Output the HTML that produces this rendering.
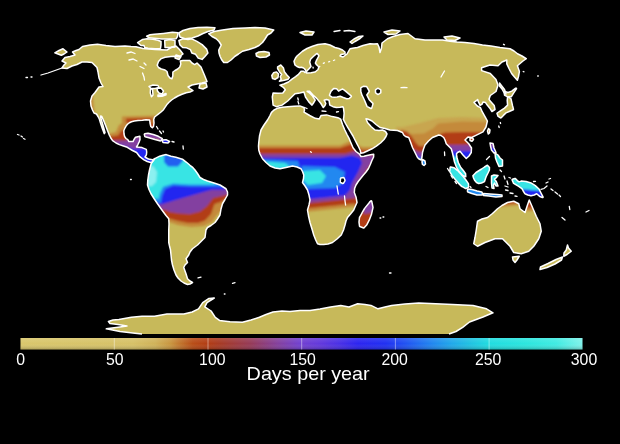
<!DOCTYPE html>
<html><head><meta charset="utf-8"><title>Days per year</title>
<style>
html,body{margin:0;padding:0;background:#000;}
body{width:620px;height:444px;overflow:hidden;}
svg{display:block;}
text{font-family:"Liberation Sans",Arial,sans-serif;fill:#fff;}
</style></head><body>
<svg width="620" height="444" viewBox="0 0 620 444">
<defs>
<clipPath id="land"><polygon points="62,61 65,57.5 70,56.5 75,55 72.5,52 76,50.5 79,49.5 82.5,46.5 90,45 97.5,44.25 106,45.5 115,46.5 125,46 131,46.5 136,46.7 143,48.5 155,49.5 167,50 172,47 176,46 180,50 183,54 179,57 175,56.3 171,56.5 165,57.3 161.3,58.6 158.5,61.5 157.2,65.2 158.5,67.5 161.3,69 165,70 167,71.5 168,75.5 170,78 171.9,78.7 172.8,76 172.9,72 175,70.5 177.7,69 179.8,67 180.8,64 180.3,61 183,60.5 189.8,60.5 192,63 194.7,64.6 197,63 201,67 204.4,75 207,81.6 202,83 197,84 192,85 188,87 190,88.5 193,90.5 190,92 186.2,92.7 182,94.3 178,96 174.5,98 171.6,100 169,102.3 166.7,104.8 165,107.3 163.5,109.7 161,112 158.6,113.8 156.5,115.5 154.6,117 153.7,119.4 154,123 153.5,126.5 152.3,127.8 150.8,126.5 150,123 149.7,120 146,119.7 142.4,120.2 138,120.5 134.3,121 131.5,121.7 129.4,122.7 127.5,124.3 126.2,125.9 124.8,128.3 123.8,130.8 124,134 124.6,136.5 126,138.5 127.8,139.7 128.9,141.6 133,141.6 134,139.5 135.5,137.2 139.9,136.3 140,139.5 139.3,141.6 137.8,144.8 136.5,147 139,147.2 142,147.6 146.3,149.4 146.7,152 146.4,154.8 145,157 146.6,158 148.5,159 152.4,159.8 154.8,158.6 151.6,162.7 147.3,161.5 144,159.9 139.8,156.7 136.6,152.5 132.5,150.5 127.3,147.3 123.5,146 119.4,144.6 116,143 112.6,140.7 110.8,138 109,134.3 107.3,130 105.8,126 103.8,121 101.8,116.5 100.6,116 100.5,117 102,122 103.5,127 105,132.5 104.3,133.7 102.5,129 100.8,124 99.3,119 98,116.5 96.5,114 94,113 92.5,110 91,106 90.5,101 92,96 95,92.5 99,87 103,86.5 101,83 99,78 98,72 97,67.5 92,62.5 87,62 82,62 77,64.5 72,66 67,68.5 62,68 64,65 66,63"/><polygon points="137.6,42.6 142.7,39.4 147,38.8 153,39.3 158,40.3 161,41.5 161,45 160.5,48.5 155,48.8 148,48.3 144.7,47.5 144,45.5 141,45.5"/><polygon points="146.6,36.2 150,34.8 154.4,34.3 163.4,33.4 172.4,32.3 178,32.8 177.5,36.5 176,38.8 170,39 162,39 154,38.3 149,37.8"/><polygon points="178.9,33 183,30.5 190,28.5 198,27.5 207,27.2 215,27.8 214,30 208,31.5 203,33.5 198,36 192,38 185,38.8 180,37"/><polygon points="178.9,40.5 183,38.8 188,39.5 191.8,38.8 196.9,41.4 202.1,44.6 206.6,49.1 207.9,53 204.7,56.8 202.1,59.4 198.2,58.1 195.6,54.3 191.8,53 190.5,49.7 186.6,47.8 182.7,47.5 180,45"/><polygon points="54.8,52.8 59,50.5 63,48.8 67,52 64,54 61.3,55.3 58,54"/><polygon points="164.7,40.5 170,39.5 175,40.5 175,47 170,47.5 165,47.5"/><polygon points="176,55 181,56.5 179,59.5 175,58"/><polygon points="200,84 206,83 207,87 203,89 199,88"/><polygon points="208.75,33.75 214,31.5 222.5,30 233,28.5 245,28 255,27.5 265,28 273.75,30 271,33 267.5,35 265,39 262.5,42.5 259,45.5 255,47.5 249,49.5 242.5,51.25 238.5,54 235,56.25 231,60 227.5,62.5 223.75,62.5 221.5,59.5 220,56.25 219,53 218.75,50 220,47.5 221.25,45 219,41.5 216.25,38.75 212,36.5"/><polygon points="256,53.5 259,52 264,51.5 269,52.5 269.5,55 266,57 260,57.5 256.5,56"/><polygon points="144.3,134.4 144.8,136.4 145.2,136.8 148.9,137.8 154.9,139.5 154.9,139.5 160.4,140.9 160.9,140.7 162.2,139.1 162.3,138.7 162,138.4 158.2,136.4 158.2,136.3 153.2,134.5 153.1,134.5 148.1,133.2 147.9,133.2 144.7,133.8 144.4,134"/><polygon points="162,140 166,139.7 169.6,141.5 168,143 163,142.5"/><polygon points="271.5,112.4 274,110 277.2,108.3 282,107.3 287.7,106.7 294,106.2 299.8,105.9 303.9,107.5 304.5,110 304,112.1 309.7,115.5 315.3,118.3 319.3,118.9 321,115.5 326.6,114.9 332.3,116.6 337.9,117.7 340.2,118.9 340.8,119.4 342.5,124.5 344.7,129.7 347,134.5 349.2,138.7 351,143 353,147.7 356,151.5 359.5,154.2 361,156.5 364,156.3 367,155.5 370.5,154.8 373.7,154.3 373.6,157 371.8,160.8 370.3,164.5 368.5,168.5 366,172 363.4,175 360.8,178.2 358.2,181.5 356,185 354.6,188.5 354.3,192.5 356,197 357,202.5 355,207 353.75,210 350.5,214 347.5,217.5 346,221 345,225 343.5,230 341.25,235 337,239 332.5,242.5 328,244 323.75,244.5 320,244.5 317.5,243.75 315.5,239.5 313.75,235 312,229 310,222.5 308.5,216 307.5,210 309,205 310,200 309,195 307.5,190 305,186 302.5,182.5 303.5,178.5 303.75,175 302.5,171.5 301,168.75 297,167 292.5,166 286,167.5 280,168.75 275,168 270,166 266,162.5 262.5,158.75 260,154 258.75,150 258.5,146 258.75,142.5 259.5,136 261,130 264,125 267.5,120 270,115.5"/><polygon points="370.9,200.9 369.6,202.1 369.6,202.2 364.6,208.4 364.6,208.5 362.1,212.7 362.1,212.8 359.6,217.3 359.5,217.4 359,221.9 359,222.1 359.5,226.1 359.8,226.5 363.6,228 363.9,228 364.1,227.8 366.9,224.8 366.9,224.7 369.2,220.2 369.2,220.2 371.5,214.2 371.5,214.1 373,207.6 373,207.4 371.7,201.2 371.6,200.9 371.2,200.8"/><polygon points="273.1,105.1 272.3,97 273.1,93 278,93.3 282.8,93 285.3,89.7 283.3,87.3 279.9,85.2 283.9,84 288.4,82 292,79.2 295.6,76.7 298.5,74.3 300.3,72.3 301,71.2 303.5,71.2 304.8,72.4 306.3,71.8 305.7,70.5 304.7,69 303.5,68 301.5,67.3 299.4,67.5 297,66.5 294.9,64.8 294,61.2 295.5,58 297,56 302.5,51.25 307,48.5 312.5,46.25 318,44.5 325,43.75 330,45 335,47.5 339,48.5 342.5,50 345,52 345,53.75 341,54.5 340,56 343,57 347,54 350,48.75 354,48 357.5,47.5 363,45.5 370,43.75 374,44 377.5,43.75 379,47 380,52.5 381.5,48 382,43 387.5,38.75 393,36.5 400,34.5 408,33.5 415,38.75 425,40 433,40 442.5,40 450,41.25 457,42 465,42.5 474,43.5 482.5,45 491,46 500,47.5 510,48.75 514,51 517.5,53.75 522,56 526.25,58.75 523,61 517.4,65.8 519.4,71.6 518.5,76.5 517.4,80.3 514.5,77 511.6,73.5 509,68.5 506.8,63.9 506.8,60 502,62 498,65.8 490,65 481.6,67.7 481.6,70.6 490.3,73.5 496,79.4 498,85 496,91.5 490.3,95.5 489,99.2 490,100.8 494.2,105.5 495,109.5 491.9,111.5 489.8,108.2 487,104.8 485.4,102.4 483,102 482.2,104 480.1,105.3 478.1,101.2 477.7,99.6 474,102.4 477.3,106 480.5,107.7 482.2,111.7 485.4,117.4 487.4,121 486,127 483,131.8 477.4,134.6 471.8,137.4 468,137 465,140 468.75,143.75 471.5,148 471.25,152.5 469,156 466.25,158.5 463,155 460,151.25 457.5,152.5 456.5,153.75 456.8,157 458.3,162.5 460.8,167.5 463.3,170.5 465.6,173.7 465.8,176.8 462.5,175.5 459.5,172.3 456.5,167.3 454.5,162 453.5,157.5 452.5,153 451.25,148.75 448.5,146 446.25,143.75 445,140 443.75,137.5 441,135.5 438.75,135 435,136.5 432.5,137.5 428.5,141 425,145 423.5,149 422.5,152.5 422,157 421.25,160 419,159 417.5,157.5 415,152.5 412.5,147.5 410.5,142 408.75,137.5 405.5,136.5 403.75,135 402.5,132.5 397.5,130.5 390,130 385,128.5 380,127.5 376,124.5 372,121 370,120 367.5,119 366,118.75 367.5,122.5 371,126.5 375,130 379,130.5 382.5,130 385.5,131.5 387,134 386,136.5 384,139.5 380.5,143 376.3,146.2 372,148.8 367.3,151 363.5,152.8 360.8,153.3 360.3,150.5 358.7,147 357,143.9 355,140 353,136 350.5,131.8 347.9,127.7 345.5,123.5 343.4,119.4 343.8,117 344.1,113.2 343.5,108.1 342.8,106.7 340,107.3 336.3,107.5 333,106.7 329.8,105.1 329,100.2 326.5,99.5 324.2,100.2 325.8,103.5 325,105.5 323.3,107.5 320.9,103.5 316.9,98.6 313,95 309.6,91.3 307.1,91.3 309,92.5 312,95.4 315.2,100.2 313.5,103 312,105.1 308.8,101.9 305.5,97 303.9,92.1 299.8,93 295,93.8 291.7,97 287.7,101 282,105.1 276.3,106.7"/><polygon points="280.8,65 283.5,68.1 284.4,71.7 287.1,75.3 289.3,77.6 288,79.2 284.4,80.3 279.4,81.2 281.2,79.2 280.3,76.7 281.7,74.4 279.4,71.7 277.6,68.6 277.6,66.8"/><polygon points="271.8,75.5 273.5,72.8 276.5,71.9 278.5,74 278,77.5 275,79.4 272.5,78.5"/><polygon points="300,32.5 306,31 314,32 312,35 305,35"/><polygon points="350,42 354,39 359,36.5 363,36 360,38.5 355,41.5 352,43.5"/><polygon points="384,32 392,30 400,31 396,34 388,34.5"/><polygon points="444,37 452,36 460,38 455,40.5 447,40"/><polygon points="499.5,83 501,85 504.5,89.5 506,94 504.5,93.5 502,89 499.5,86"/><polygon points="504.3,92 504.5,95 504.8,95.4 506.8,96.4 507,96.5 511,96.8 511.4,96.6 513.4,93.3 516.4,88.9 516.5,88.5 516.3,88.2 516,88.1 515.7,88.2 511.8,91.1 508,92.5 504.9,91.5 504.5,91.6"/><polygon points="507.6,97.1 507.2,100.3 507.2,100.4 507.6,105.1 504.5,108.1 500.7,110.6 500.7,110.6 497.2,113 497,113.3 497,113.6 498,116.2 498.2,116.4 500.5,117.8 500.9,117.9 501.2,117.7 503.4,115.4 506,112.9 509.2,111.5 513.2,109.8 513.4,109.5 513.5,109.2 512.6,105.9 511,98.9 510.8,98.6 508.4,96.8 508.1,96.7 507.8,96.8"/><polygon points="422.5,159.5 425,161 425.5,164 424,165.5 422.5,164.5 422,162"/><polygon points="470,138 472.5,137.8 473.5,139.5 472,141.3 470,140.5"/><polygon points="488.5,128.5 490,130 489.5,133 488.3,134 487.5,131"/><polygon points="490,143 493,143.5 494,148 496,152.5 494,153 491.5,150 490.5,146"/><polygon points="495,153 498,155 500,158 502.5,160 502.5,166 499,166.5 497,162 495.5,158"/><polygon points="450.1,167.5 449.8,171.5 449.9,171.8 452.1,175.6 452.1,175.6 455.1,179.3 455.1,179.3 458.1,182.8 458.1,182.9 461.6,186.4 461.8,186.4 465.3,188.4 465.7,188.5 468.2,187.5 468.4,187.3 468.5,187 468.5,184 468.4,183.7 465.9,180 465.9,180 463.4,176.7 463.4,176.7 460.4,173.2 460.3,173.1 457.3,170.3 457.3,170.3 454.3,167.9 454.1,167.8 450.7,167 450.3,167.1"/><polygon points="467.5,189.5 467.5,191.5 467.6,191.8 467.8,192 471.8,193.5 471.9,193.5 476.9,195 477,195 482,195 482.4,194.8 482.5,194.4 482.1,192.4 481.7,192 477.1,191 472.1,189.5 472.1,189.5 468.1,189 467.7,189.1"/><polygon points="483.5,193.5 490,194 497,194.5 502,195 502,196.5 496,197 489,196 483.5,195.5"/><polygon points="472.9,175.8 476,172.5 481.6,169 484.5,167 487.4,165.2 489.5,167.5 489.4,170 488,173 486.5,175.8 485.5,178.5 484.5,181.6 481.5,183 478.7,183.5 476.5,182.5 474.8,180.6 473.5,178"/><polygon points="491.5,176 494,175 498,175.5 496,178 494.5,179 496.5,182 498,186 496,186 494.5,183 493.5,185 494,188.5 492,188 491.5,183 491.5,179"/><polygon points="512.1,179.9 513.5,183.2 513.7,183.4 518.7,186.4 521.9,188.7 523.1,190.7 523.1,190.8 524.8,193.5 525,193.7 527.8,195 527.9,195 530.9,195.7 531.1,195.7 534.1,195 534.2,195 536.7,193.8 539.7,196.4 539.8,196.5 542.4,197.5 542.8,197.5 543.1,197.2 543,196.8 540.9,192.8 539.1,189.2 539,189 535.3,185.6 535.3,185.6 531.3,183.1 531.1,183 526.1,181.5 526,181.5 521.3,181.1 521.1,181.1 519.1,181.9 517.3,180.6 515.4,178.6 514.9,178.5 512.5,179.2 512.1,179.5"/><polygon points="477.5,221.25 482,219 487.5,217.5 492.5,213.5 497.5,208.75 502,205.5 507.5,202.5 513.75,201.25 518.75,203.75 520,208.75 525,212.5 527.5,205 529.25,200 532.5,207.5 536.25,216.25 540,223.75 541.25,231.25 538.75,238.75 533.75,246.25 528.75,251.25 521.25,253.75 513.75,252.5 510,246.25 506.25,242.5 502.5,238.75 495,238.75 485,242.5 477.5,246.25 473.75,243.75 475,237.5 476.25,230"/><polygon points="512.5,257 519.25,256.25 517,260 515,262.5 513,260"/><polygon points="567.5,245 568.5,248 571.25,251.25 567,254.5 563.75,256.25 564,253 566.25,250"/><polygon points="562.5,257 561.5,260 555,264 547,267.5 540,269.5 540.5,267 548,263.5 556,259.5"/><polygon points="142,334 135,333.3 120,331.5 106.3,328.8 118,327.3 127,326 118,324.5 110,323.5 108.4,321.5 113,320 118.9,319.4 131.4,317.3 142,316.2 154.5,316.2 167,314 183.9,314 192.2,312 198.5,308.9 202.7,302.6 209,298.4 214.3,298 207,302.6 204.8,306.8 211.1,311 215.3,317.3 219.5,320.4 230,321.7 242.4,322.3 251,320 259.4,317.3 266,314.5 273,312 282,311 290,311.5 300,310.5 310,310.5 320,309 330.6,307 340.8,305.4 349,307 357.7,303.7 365,304.5 371,305.4 378,308.8 385,307 391.6,305.4 405,304 418.7,303 435.6,303.7 452.6,304.4 473,305.4 486.5,308.8 493,312.8 483,317 469.5,322 462.7,327.4 456,331.5 449,334"/></clipPath><clipPath id="lsa"><polygon points="150.8,165 151.6,162.7 154.8,158.6 159.7,156.2 163,155.2 166.2,154.6 171,156.2 175.9,157.3 182.4,159.2 186.5,162.3 190,165.3 193,167.7 195,170 197.5,173.5 200,177.5 203.5,179.5 207.5,181 214,183 220,185 226,188.75 227.5,192 227.5,195 225,199.5 222.5,203.75 221,209 220,215 217.5,219 215,222.5 211,225.5 207.5,227.5 206,230 205,237.5 201,241.5 197.5,245 192.5,248.75 190,252 188.75,255 186,258.75 187.5,262.5 185,265 183.75,267.5 185,271 186,273.75 187.5,278.75 190,281 192.5,282.5 190,284 187.5,284.5 184,283 181,281 178,278 176,275 174,270 172.5,265 171.5,260 171,255 170.5,250 169.5,246 168.75,242.5 168.75,236 168.75,230 169,224 168.75,218.75 166,215.5 163.75,212.5 160.5,208 157.5,203.75 154,198.5 151,193.75 149,189.5 147.5,185 147.8,180 148.5,175 149.5,170"/></clipPath>
<filter id="b" x="-5%" y="-5%" width="110%" height="110%"><feGaussianBlur stdDeviation="1.3"/></filter>
<filter id="s" x="-2%" y="-2%" width="104%" height="104%"><feGaussianBlur stdDeviation="0.35"/></filter>
<linearGradient id="cb" x1="0" y1="0" x2="1" y2="0"><stop offset="0.0000" stop-color="#d9c76c"/><stop offset="0.2000" stop-color="#d6c167"/><stop offset="0.2400" stop-color="#d0b259"/><stop offset="0.2667" stop-color="#c99640"/><stop offset="0.2867" stop-color="#c0702a"/><stop offset="0.3067" stop-color="#b84d17"/><stop offset="0.3333" stop-color="#b23c14"/><stop offset="0.3567" stop-color="#a63a26"/><stop offset="0.4100" stop-color="#953a58"/><stop offset="0.4600" stop-color="#8340a0"/><stop offset="0.4967" stop-color="#7240d0"/><stop offset="0.5333" stop-color="#6238dc"/><stop offset="0.5667" stop-color="#4a30e6"/><stop offset="0.6000" stop-color="#2c24f0"/><stop offset="0.6500" stop-color="#2030f2"/><stop offset="0.6833" stop-color="#2050f2"/><stop offset="0.7267" stop-color="#2080f0"/><stop offset="0.7667" stop-color="#20a8ea"/><stop offset="0.8000" stop-color="#20c2e2"/><stop offset="0.8333" stop-color="#20dce0"/><stop offset="0.9000" stop-color="#2ce6de"/><stop offset="0.9533" stop-color="#40ebe2"/><stop offset="1.0000" stop-color="#80f2ea"/></linearGradient>
<linearGradient id="sh" x1="0" y1="0" x2="0" y2="1"><stop offset="0" stop-color="#fff" stop-opacity=".12"/><stop offset=".5" stop-color="#fff" stop-opacity="0"/><stop offset="1" stop-color="#000" stop-opacity=".22"/></linearGradient>
</defs>
<rect width="620" height="444" fill="#000"/>
<g filter="url(#s)">
<g fill="#c7b95a"><polygon points="62,61 65,57.5 70,56.5 75,55 72.5,52 76,50.5 79,49.5 82.5,46.5 90,45 97.5,44.25 106,45.5 115,46.5 125,46 131,46.5 136,46.7 143,48.5 155,49.5 167,50 172,47 176,46 180,50 183,54 179,57 175,56.3 171,56.5 165,57.3 161.3,58.6 158.5,61.5 157.2,65.2 158.5,67.5 161.3,69 165,70 167,71.5 168,75.5 170,78 171.9,78.7 172.8,76 172.9,72 175,70.5 177.7,69 179.8,67 180.8,64 180.3,61 183,60.5 189.8,60.5 192,63 194.7,64.6 197,63 201,67 204.4,75 207,81.6 202,83 197,84 192,85 188,87 190,88.5 193,90.5 190,92 186.2,92.7 182,94.3 178,96 174.5,98 171.6,100 169,102.3 166.7,104.8 165,107.3 163.5,109.7 161,112 158.6,113.8 156.5,115.5 154.6,117 153.7,119.4 154,123 153.5,126.5 152.3,127.8 150.8,126.5 150,123 149.7,120 146,119.7 142.4,120.2 138,120.5 134.3,121 131.5,121.7 129.4,122.7 127.5,124.3 126.2,125.9 124.8,128.3 123.8,130.8 124,134 124.6,136.5 126,138.5 127.8,139.7 128.9,141.6 133,141.6 134,139.5 135.5,137.2 139.9,136.3 140,139.5 139.3,141.6 137.8,144.8 136.5,147 139,147.2 142,147.6 146.3,149.4 146.7,152 146.4,154.8 145,157 146.6,158 148.5,159 152.4,159.8 154.8,158.6 151.6,162.7 147.3,161.5 144,159.9 139.8,156.7 136.6,152.5 132.5,150.5 127.3,147.3 123.5,146 119.4,144.6 116,143 112.6,140.7 110.8,138 109,134.3 107.3,130 105.8,126 103.8,121 101.8,116.5 100.6,116 100.5,117 102,122 103.5,127 105,132.5 104.3,133.7 102.5,129 100.8,124 99.3,119 98,116.5 96.5,114 94,113 92.5,110 91,106 90.5,101 92,96 95,92.5 99,87 103,86.5 101,83 99,78 98,72 97,67.5 92,62.5 87,62 82,62 77,64.5 72,66 67,68.5 62,68 64,65 66,63"/><polygon points="137.6,42.6 142.7,39.4 147,38.8 153,39.3 158,40.3 161,41.5 161,45 160.5,48.5 155,48.8 148,48.3 144.7,47.5 144,45.5 141,45.5"/><polygon points="146.6,36.2 150,34.8 154.4,34.3 163.4,33.4 172.4,32.3 178,32.8 177.5,36.5 176,38.8 170,39 162,39 154,38.3 149,37.8"/><polygon points="178.9,33 183,30.5 190,28.5 198,27.5 207,27.2 215,27.8 214,30 208,31.5 203,33.5 198,36 192,38 185,38.8 180,37"/><polygon points="178.9,40.5 183,38.8 188,39.5 191.8,38.8 196.9,41.4 202.1,44.6 206.6,49.1 207.9,53 204.7,56.8 202.1,59.4 198.2,58.1 195.6,54.3 191.8,53 190.5,49.7 186.6,47.8 182.7,47.5 180,45"/><polygon points="54.8,52.8 59,50.5 63,48.8 67,52 64,54 61.3,55.3 58,54"/><polygon points="164.7,40.5 170,39.5 175,40.5 175,47 170,47.5 165,47.5"/><polygon points="176,55 181,56.5 179,59.5 175,58"/><polygon points="200,84 206,83 207,87 203,89 199,88"/><polygon points="208.75,33.75 214,31.5 222.5,30 233,28.5 245,28 255,27.5 265,28 273.75,30 271,33 267.5,35 265,39 262.5,42.5 259,45.5 255,47.5 249,49.5 242.5,51.25 238.5,54 235,56.25 231,60 227.5,62.5 223.75,62.5 221.5,59.5 220,56.25 219,53 218.75,50 220,47.5 221.25,45 219,41.5 216.25,38.75 212,36.5"/><polygon points="256,53.5 259,52 264,51.5 269,52.5 269.5,55 266,57 260,57.5 256.5,56"/><polygon points="144.3,134.4 144.8,136.4 145.2,136.8 148.9,137.8 154.9,139.5 154.9,139.5 160.4,140.9 160.9,140.7 162.2,139.1 162.3,138.7 162,138.4 158.2,136.4 158.2,136.3 153.2,134.5 153.1,134.5 148.1,133.2 147.9,133.2 144.7,133.8 144.4,134"/><polygon points="162,140 166,139.7 169.6,141.5 168,143 163,142.5"/><polygon points="150.8,165 151.6,162.7 154.8,158.6 159.7,156.2 163,155.2 166.2,154.6 171,156.2 175.9,157.3 182.4,159.2 186.5,162.3 190,165.3 193,167.7 195,170 197.5,173.5 200,177.5 203.5,179.5 207.5,181 214,183 220,185 226,188.75 227.5,192 227.5,195 225,199.5 222.5,203.75 221,209 220,215 217.5,219 215,222.5 211,225.5 207.5,227.5 206,230 205,237.5 201,241.5 197.5,245 192.5,248.75 190,252 188.75,255 186,258.75 187.5,262.5 185,265 183.75,267.5 185,271 186,273.75 187.5,278.75 190,281 192.5,282.5 190,284 187.5,284.5 184,283 181,281 178,278 176,275 174,270 172.5,265 171.5,260 171,255 170.5,250 169.5,246 168.75,242.5 168.75,236 168.75,230 169,224 168.75,218.75 166,215.5 163.75,212.5 160.5,208 157.5,203.75 154,198.5 151,193.75 149,189.5 147.5,185 147.8,180 148.5,175 149.5,170"/><polygon points="271.5,112.4 274,110 277.2,108.3 282,107.3 287.7,106.7 294,106.2 299.8,105.9 303.9,107.5 304.5,110 304,112.1 309.7,115.5 315.3,118.3 319.3,118.9 321,115.5 326.6,114.9 332.3,116.6 337.9,117.7 340.2,118.9 340.8,119.4 342.5,124.5 344.7,129.7 347,134.5 349.2,138.7 351,143 353,147.7 356,151.5 359.5,154.2 361,156.5 364,156.3 367,155.5 370.5,154.8 373.7,154.3 373.6,157 371.8,160.8 370.3,164.5 368.5,168.5 366,172 363.4,175 360.8,178.2 358.2,181.5 356,185 354.6,188.5 354.3,192.5 356,197 357,202.5 355,207 353.75,210 350.5,214 347.5,217.5 346,221 345,225 343.5,230 341.25,235 337,239 332.5,242.5 328,244 323.75,244.5 320,244.5 317.5,243.75 315.5,239.5 313.75,235 312,229 310,222.5 308.5,216 307.5,210 309,205 310,200 309,195 307.5,190 305,186 302.5,182.5 303.5,178.5 303.75,175 302.5,171.5 301,168.75 297,167 292.5,166 286,167.5 280,168.75 275,168 270,166 266,162.5 262.5,158.75 260,154 258.75,150 258.5,146 258.75,142.5 259.5,136 261,130 264,125 267.5,120 270,115.5"/><polygon points="370.9,200.9 369.6,202.1 369.6,202.2 364.6,208.4 364.6,208.5 362.1,212.7 362.1,212.8 359.6,217.3 359.5,217.4 359,221.9 359,222.1 359.5,226.1 359.8,226.5 363.6,228 363.9,228 364.1,227.8 366.9,224.8 366.9,224.7 369.2,220.2 369.2,220.2 371.5,214.2 371.5,214.1 373,207.6 373,207.4 371.7,201.2 371.6,200.9 371.2,200.8"/><polygon points="273.1,105.1 272.3,97 273.1,93 278,93.3 282.8,93 285.3,89.7 283.3,87.3 279.9,85.2 283.9,84 288.4,82 292,79.2 295.6,76.7 298.5,74.3 300.3,72.3 301,71.2 303.5,71.2 304.8,72.4 306.3,71.8 305.7,70.5 304.7,69 303.5,68 301.5,67.3 299.4,67.5 297,66.5 294.9,64.8 294,61.2 295.5,58 297,56 302.5,51.25 307,48.5 312.5,46.25 318,44.5 325,43.75 330,45 335,47.5 339,48.5 342.5,50 345,52 345,53.75 341,54.5 340,56 343,57 347,54 350,48.75 354,48 357.5,47.5 363,45.5 370,43.75 374,44 377.5,43.75 379,47 380,52.5 381.5,48 382,43 387.5,38.75 393,36.5 400,34.5 408,33.5 415,38.75 425,40 433,40 442.5,40 450,41.25 457,42 465,42.5 474,43.5 482.5,45 491,46 500,47.5 510,48.75 514,51 517.5,53.75 522,56 526.25,58.75 523,61 517.4,65.8 519.4,71.6 518.5,76.5 517.4,80.3 514.5,77 511.6,73.5 509,68.5 506.8,63.9 506.8,60 502,62 498,65.8 490,65 481.6,67.7 481.6,70.6 490.3,73.5 496,79.4 498,85 496,91.5 490.3,95.5 489,99.2 490,100.8 494.2,105.5 495,109.5 491.9,111.5 489.8,108.2 487,104.8 485.4,102.4 483,102 482.2,104 480.1,105.3 478.1,101.2 477.7,99.6 474,102.4 477.3,106 480.5,107.7 482.2,111.7 485.4,117.4 487.4,121 486,127 483,131.8 477.4,134.6 471.8,137.4 468,137 465,140 468.75,143.75 471.5,148 471.25,152.5 469,156 466.25,158.5 463,155 460,151.25 457.5,152.5 456.5,153.75 456.8,157 458.3,162.5 460.8,167.5 463.3,170.5 465.6,173.7 465.8,176.8 462.5,175.5 459.5,172.3 456.5,167.3 454.5,162 453.5,157.5 452.5,153 451.25,148.75 448.5,146 446.25,143.75 445,140 443.75,137.5 441,135.5 438.75,135 435,136.5 432.5,137.5 428.5,141 425,145 423.5,149 422.5,152.5 422,157 421.25,160 419,159 417.5,157.5 415,152.5 412.5,147.5 410.5,142 408.75,137.5 405.5,136.5 403.75,135 402.5,132.5 397.5,130.5 390,130 385,128.5 380,127.5 376,124.5 372,121 370,120 367.5,119 366,118.75 367.5,122.5 371,126.5 375,130 379,130.5 382.5,130 385.5,131.5 387,134 386,136.5 384,139.5 380.5,143 376.3,146.2 372,148.8 367.3,151 363.5,152.8 360.8,153.3 360.3,150.5 358.7,147 357,143.9 355,140 353,136 350.5,131.8 347.9,127.7 345.5,123.5 343.4,119.4 343.8,117 344.1,113.2 343.5,108.1 342.8,106.7 340,107.3 336.3,107.5 333,106.7 329.8,105.1 329,100.2 326.5,99.5 324.2,100.2 325.8,103.5 325,105.5 323.3,107.5 320.9,103.5 316.9,98.6 313,95 309.6,91.3 307.1,91.3 309,92.5 312,95.4 315.2,100.2 313.5,103 312,105.1 308.8,101.9 305.5,97 303.9,92.1 299.8,93 295,93.8 291.7,97 287.7,101 282,105.1 276.3,106.7"/><polygon points="280.8,65 283.5,68.1 284.4,71.7 287.1,75.3 289.3,77.6 288,79.2 284.4,80.3 279.4,81.2 281.2,79.2 280.3,76.7 281.7,74.4 279.4,71.7 277.6,68.6 277.6,66.8"/><polygon points="271.8,75.5 273.5,72.8 276.5,71.9 278.5,74 278,77.5 275,79.4 272.5,78.5"/><polygon points="300,32.5 306,31 314,32 312,35 305,35"/><polygon points="350,42 354,39 359,36.5 363,36 360,38.5 355,41.5 352,43.5"/><polygon points="384,32 392,30 400,31 396,34 388,34.5"/><polygon points="444,37 452,36 460,38 455,40.5 447,40"/><polygon points="499.5,83 501,85 504.5,89.5 506,94 504.5,93.5 502,89 499.5,86"/><polygon points="504.3,92 504.5,95 504.8,95.4 506.8,96.4 507,96.5 511,96.8 511.4,96.6 513.4,93.3 516.4,88.9 516.5,88.5 516.3,88.2 516,88.1 515.7,88.2 511.8,91.1 508,92.5 504.9,91.5 504.5,91.6"/><polygon points="507.6,97.1 507.2,100.3 507.2,100.4 507.6,105.1 504.5,108.1 500.7,110.6 500.7,110.6 497.2,113 497,113.3 497,113.6 498,116.2 498.2,116.4 500.5,117.8 500.9,117.9 501.2,117.7 503.4,115.4 506,112.9 509.2,111.5 513.2,109.8 513.4,109.5 513.5,109.2 512.6,105.9 511,98.9 510.8,98.6 508.4,96.8 508.1,96.7 507.8,96.8"/><polygon points="422.5,159.5 425,161 425.5,164 424,165.5 422.5,164.5 422,162"/><polygon points="470,138 472.5,137.8 473.5,139.5 472,141.3 470,140.5"/><polygon points="488.5,128.5 490,130 489.5,133 488.3,134 487.5,131"/><polygon points="490,143 493,143.5 494,148 496,152.5 494,153 491.5,150 490.5,146"/><polygon points="495,153 498,155 500,158 502.5,160 502.5,166 499,166.5 497,162 495.5,158"/><polygon points="450.1,167.5 449.8,171.5 449.9,171.8 452.1,175.6 452.1,175.6 455.1,179.3 455.1,179.3 458.1,182.8 458.1,182.9 461.6,186.4 461.8,186.4 465.3,188.4 465.7,188.5 468.2,187.5 468.4,187.3 468.5,187 468.5,184 468.4,183.7 465.9,180 465.9,180 463.4,176.7 463.4,176.7 460.4,173.2 460.3,173.1 457.3,170.3 457.3,170.3 454.3,167.9 454.1,167.8 450.7,167 450.3,167.1"/><polygon points="467.5,189.5 467.5,191.5 467.6,191.8 467.8,192 471.8,193.5 471.9,193.5 476.9,195 477,195 482,195 482.4,194.8 482.5,194.4 482.1,192.4 481.7,192 477.1,191 472.1,189.5 472.1,189.5 468.1,189 467.7,189.1"/><polygon points="483.5,193.5 490,194 497,194.5 502,195 502,196.5 496,197 489,196 483.5,195.5"/><polygon points="472.9,175.8 476,172.5 481.6,169 484.5,167 487.4,165.2 489.5,167.5 489.4,170 488,173 486.5,175.8 485.5,178.5 484.5,181.6 481.5,183 478.7,183.5 476.5,182.5 474.8,180.6 473.5,178"/><polygon points="491.5,176 494,175 498,175.5 496,178 494.5,179 496.5,182 498,186 496,186 494.5,183 493.5,185 494,188.5 492,188 491.5,183 491.5,179"/><polygon points="512.1,179.9 513.5,183.2 513.7,183.4 518.7,186.4 521.9,188.7 523.1,190.7 523.1,190.8 524.8,193.5 525,193.7 527.8,195 527.9,195 530.9,195.7 531.1,195.7 534.1,195 534.2,195 536.7,193.8 539.7,196.4 539.8,196.5 542.4,197.5 542.8,197.5 543.1,197.2 543,196.8 540.9,192.8 539.1,189.2 539,189 535.3,185.6 535.3,185.6 531.3,183.1 531.1,183 526.1,181.5 526,181.5 521.3,181.1 521.1,181.1 519.1,181.9 517.3,180.6 515.4,178.6 514.9,178.5 512.5,179.2 512.1,179.5"/><polygon points="477.5,221.25 482,219 487.5,217.5 492.5,213.5 497.5,208.75 502,205.5 507.5,202.5 513.75,201.25 518.75,203.75 520,208.75 525,212.5 527.5,205 529.25,200 532.5,207.5 536.25,216.25 540,223.75 541.25,231.25 538.75,238.75 533.75,246.25 528.75,251.25 521.25,253.75 513.75,252.5 510,246.25 506.25,242.5 502.5,238.75 495,238.75 485,242.5 477.5,246.25 473.75,243.75 475,237.5 476.25,230"/><polygon points="512.5,257 519.25,256.25 517,260 515,262.5 513,260"/><polygon points="567.5,245 568.5,248 571.25,251.25 567,254.5 563.75,256.25 564,253 566.25,250"/><polygon points="562.5,257 561.5,260 555,264 547,267.5 540,269.5 540.5,267 548,263.5 556,259.5"/><polygon points="142,334 135,333.3 120,331.5 106.3,328.8 118,327.3 127,326 118,324.5 110,323.5 108.4,321.5 113,320 118.9,319.4 131.4,317.3 142,316.2 154.5,316.2 167,314 183.9,314 192.2,312 198.5,308.9 202.7,302.6 209,298.4 214.3,298 207,302.6 204.8,306.8 211.1,311 215.3,317.3 219.5,320.4 230,321.7 242.4,322.3 251,320 259.4,317.3 266,314.5 273,312 282,311 290,311.5 300,310.5 310,310.5 320,309 330.6,307 340.8,305.4 349,307 357.7,303.7 365,304.5 371,305.4 378,308.8 385,307 391.6,305.4 405,304 418.7,303 435.6,303.7 452.6,304.4 473,305.4 486.5,308.8 493,312.8 483,317 469.5,322 462.7,327.4 456,331.5 449,334"/></g>
<g clip-path="url(#land)"><g filter="url(#b)"><polygon points="250,145.5 340,145.5 350,141 362,147 385,147 385,162 372,170 362,196 362,206 300,212.5 250,212.5" fill="#c48a3a"/><polygon points="250,148 340,148 352,144 362,150 382,150.5 382,160 370,170 361,190 360,203 300,209 250,209" fill="#b23c14"/><polygon points="250,154 345,154 356,151 366,155 376,156 374,160 366,170 358,187 355,198 300,204 250,204" fill="#8340a0"/><polygon points="250,157.8 340,157.8 352,155.5 360,158 362,163 358,172 352,183 350,190 345,195.5 300,200 250,200" fill="#2428f0"/><polygon points="255,159 298,161 300,168 250,170" fill="#2088f0"/><polygon points="302,166 335,167 345,172 343,183 335,188 305,189 300,180" fill="#2088f0"/><polygon points="258,161 285,163 292,168 255,170" fill="#38e4e4"/><polygon points="303,171 320,170 326,176 322,183 308,185 303,180" fill="#38e4e4"/><polygon points="355,200 375,200 375,230 355,230" fill="#b23c14"/><polygon points="362,200 375,200 375,212 364,214" fill="#8340a0"/><polygon points="88,95 93,95 93.5,105 95.5,118 88,118" fill="#c48a3a"/><polygon points="122,116.5 158,115.5 158,131 122,124" fill="#c48a3a"/><polygon points="126,121 119,125 116,132 108,134 95,134 95,165 160,165 160,121" fill="#c48a3a"/><polygon points="126,118.5 152,118 152,122 126,123" fill="#b23c14"/><polygon points="95,137 110,136.5 118,135.5 121,131 127,128 127,165 95,165" fill="#b23c14"/><polygon points="150,123 157,123 157,129 150,129" fill="#b23c14"/><polygon points="95,140.5 125,140.5 134,137.5 142,136 149,140 149,165 95,165" fill="#8340a0"/><polygon points="95,144.8 119,144.8 128,147.3 134,149.3 141,148.5 160,148 160,170 95,170" fill="#2428f0"/><polygon points="160,137 172,137 172,144 160,144" fill="#2428f0"/><polygon points="143,132 163,134 163,140 143,138" fill="#8340a0"/><polygon points="396,127 403,127 420,123 438,118 462,117 490,118 490,145 396,145" fill="#c8a650"/><polygon points="396,131 403,131 412,134 424,133.5 433,128.5 438,123.5 462,121.5 490,122 490,145 480,180 440,180 396,170" fill="#c48a3a"/><polygon points="401,130 407,131.5 412,137 415.5,142.5 419,146 424,146 428,143 430,170 400,170" fill="#b23c14"/><polygon points="440,134 445,132.5 465,132 486,132 486,145 480,180 440,180" fill="#b23c14"/><polygon points="408,146 413,149.5 419,152 426,151 430,170 408,170" fill="#8340a0"/><polygon points="448,145 475,145 475,180 448,180" fill="#8340a0"/><polygon points="410,152 415,155 420,156 424,170 410,170" fill="#2428f0"/><polygon points="452,151 475,151 475,180 452,180" fill="#2428f0"/><polygon points="418,158 428,158 428,168 418,168" fill="#2088f0"/><polygon points="452,157 462,155.5 470,180 452,180" fill="#38e4e4"/><polygon points="445,164 505,150 545,175 545,200 460,200 445,190" fill="#38e4e4"/><polygon points="466,188.5 505,192.5 505,199 466,196" fill="#2088f0"/><polygon points="520,189 545,191 545,200 520,198" fill="#2428f0"/><polygon points="488,146 497,146 497,154 488,154" fill="#2428f0"/><polygon points="488,140 497,140 497,147.5 488,147.5" fill="#8340a0"/><polygon points="420,158 428,158 428,168 420,168" fill="#2088f0"/><polygon points="500,198 520,198 520,205 500,207" fill="#c48a3a"/><polygon points="504,199 518,199 518,203 504,204" fill="#b23c14"/><polygon points="524,198 535,198 535,211 524,211" fill="#c48a3a"/><polygon points="526,197 533,197 533,208 526,208" fill="#b23c14"/></g></g>
<g clip-path="url(#lsa)"><g filter="url(#b)"><polygon points="140,150 230,150 230,205 223,209 217,215 212,222 204,226 191.4,227 178,225 168.8,222 140,217" fill="#c48a3a"/><polygon points="140,150 230,150 230,196 220.7,202 214.5,204 211,214 205,220.5 198,223 188,223 178,221 168.8,218.5 140,214" fill="#b23c14"/><polygon points="140,150 230,150 230,193 225.2,195 213,198 207,206 200,211.5 190,214 180,213.5 170,212 166,210 140,205" fill="#8340a0"/><polygon points="140,150 225,150 225,189.7 211.6,189.7 191.4,195.4 175.6,200 161,204.4 140,200" fill="#2428f0"/><polygon points="140,150 230,150 230,186.5 215,186.5 190.2,186.5 173.2,185.5 165,189 162,196 160.8,203 140,200" fill="#2088f0"/><polygon points="140,150 225,150 215,184.5 190.2,184.5 173.2,183.4 163,186.7 160,193 158.5,199 140,196" fill="#38e4e4"/><polygon points="164,155 182,155 183,161 178,166.5 168,166.5 164,162" fill="#2060f0"/><polygon points="146,168 153,166 157,172 156,182 152,186 146,186" fill="#8cf0f0"/></g></g>
<g fill="#000"><polygon points="329.7,95.6 331.7,96.9 331.9,97 334.4,97.3 334.6,97.3 337.1,97 337.1,97 340.2,96.2 343.3,97.5 343.3,97.5 346.7,98.8 347,98.8 349.1,98.5 349.3,98.4 351.2,96.7 351.4,96.3 351.2,95.9 347.3,92.6 347.3,92.6 344.3,90.1 344.3,90.1 342.7,89.1 342.2,89.1 340.3,90.1 340.2,90.1 338.6,91.1 336.9,89 336.6,88.8 334.1,88.5 333.6,88.6 331.1,91.1 331,91.3 329.5,95 329.5,95.3"/><polygon points="316.7,53.6 313.6,56.3 313.6,56.3 310.8,59 310.6,59.2 309.7,61.9 309.7,62.2 311,66.5 309.1,68.7 307.1,70.8 307.1,70.8 306.2,72.2 306.1,72.6 306.3,72.9 306.6,73 311,72.8 311.1,72.8 314.9,72.1 315.1,72 317.8,69.7 318,69.5 318.7,67.4 318.6,66.9 317.4,65.4 317.3,65.3 316.4,64.7 315.4,63 316.6,60.1 318.8,56 318.8,55.5 317.4,53.7 317,53.5"/><polygon points="360.8,88 360.8,91.2 360.8,91.4 362,95.2 362.1,95.2 364.5,100.2 367,106.4 367.3,106.7 371,108.5 371.5,108.5 371.7,108.1 373,103.9 372.9,103.4 369.2,99.7 366.8,95 369.2,91.5 369.2,91 366.7,86.7 366.3,86.5 363.5,86.3 363.3,86.4 361,87.6"/><polygon points="375.5,90 375.5,92.5 375.7,92.9 377.7,94.4 378,94.5 378.3,94.4 380.6,92.9 380.8,92.5 380.8,90 380.5,89.6 378.2,88.3 377.7,88.3 375.7,89.6"/><polygon points="340.5,178.5 340.3,182 340.4,182.3 340.6,182.5 342.8,183.5 343.1,183.5 343.4,183.3 344.9,180.8 345,180.3 344,177.8 343.7,177.6 343.4,177.5 340.9,178 340.6,178.2"/><polygon points="149,86.5 153,85 158,85.5 159,87.5 155,88.5 151,88.5"/><polygon points="150.5,89 152.5,89 153,95 151.5,96.7 150.3,93"/><polygon points="157,88.5 161,88 163.5,91 162,94 159,93 157.5,91"/><polygon points="158,95 162,94.7 166,93.5 166,94.8 162,96.3 158,96.5"/></g>
<g fill="none" stroke="#fff" stroke-width="1.5" stroke-linejoin="round"><polygon points="62,61 65,57.5 70,56.5 75,55 72.5,52 76,50.5 79,49.5 82.5,46.5 90,45 97.5,44.25 106,45.5 115,46.5 125,46 131,46.5 136,46.7 143,48.5 155,49.5 167,50 172,47 176,46 180,50 183,54 179,57 175,56.3 171,56.5 165,57.3 161.3,58.6 158.5,61.5 157.2,65.2 158.5,67.5 161.3,69 165,70 167,71.5 168,75.5 170,78 171.9,78.7 172.8,76 172.9,72 175,70.5 177.7,69 179.8,67 180.8,64 180.3,61 183,60.5 189.8,60.5 192,63 194.7,64.6 197,63 201,67 204.4,75 207,81.6 202,83 197,84 192,85 188,87 190,88.5 193,90.5 190,92 186.2,92.7 182,94.3 178,96 174.5,98 171.6,100 169,102.3 166.7,104.8 165,107.3 163.5,109.7 161,112 158.6,113.8 156.5,115.5 154.6,117 153.7,119.4 154,123 153.5,126.5 152.3,127.8 150.8,126.5 150,123 149.7,120 146,119.7 142.4,120.2 138,120.5 134.3,121 131.5,121.7 129.4,122.7 127.5,124.3 126.2,125.9 124.8,128.3 123.8,130.8 124,134 124.6,136.5 126,138.5 127.8,139.7 128.9,141.6 133,141.6 134,139.5 135.5,137.2 139.9,136.3 140,139.5 139.3,141.6 137.8,144.8 136.5,147 139,147.2 142,147.6 146.3,149.4 146.7,152 146.4,154.8 145,157 146.6,158 148.5,159 152.4,159.8 154.8,158.6 151.6,162.7 147.3,161.5 144,159.9 139.8,156.7 136.6,152.5 132.5,150.5 127.3,147.3 123.5,146 119.4,144.6 116,143 112.6,140.7 110.8,138 109,134.3 107.3,130 105.8,126 103.8,121 101.8,116.5 100.6,116 100.5,117 102,122 103.5,127 105,132.5 104.3,133.7 102.5,129 100.8,124 99.3,119 98,116.5 96.5,114 94,113 92.5,110 91,106 90.5,101 92,96 95,92.5 99,87 103,86.5 101,83 99,78 98,72 97,67.5 92,62.5 87,62 82,62 77,64.5 72,66 67,68.5 62,68 64,65 66,63"/><polygon points="137.6,42.6 142.7,39.4 147,38.8 153,39.3 158,40.3 161,41.5 161,45 160.5,48.5 155,48.8 148,48.3 144.7,47.5 144,45.5 141,45.5"/><polygon points="146.6,36.2 150,34.8 154.4,34.3 163.4,33.4 172.4,32.3 178,32.8 177.5,36.5 176,38.8 170,39 162,39 154,38.3 149,37.8"/><polygon points="178.9,33 183,30.5 190,28.5 198,27.5 207,27.2 215,27.8 214,30 208,31.5 203,33.5 198,36 192,38 185,38.8 180,37"/><polygon points="178.9,40.5 183,38.8 188,39.5 191.8,38.8 196.9,41.4 202.1,44.6 206.6,49.1 207.9,53 204.7,56.8 202.1,59.4 198.2,58.1 195.6,54.3 191.8,53 190.5,49.7 186.6,47.8 182.7,47.5 180,45"/><polygon points="54.8,52.8 59,50.5 63,48.8 67,52 64,54 61.3,55.3 58,54"/><polygon points="164.7,40.5 170,39.5 175,40.5 175,47 170,47.5 165,47.5"/><polygon points="176,55 181,56.5 179,59.5 175,58"/><polygon points="200,84 206,83 207,87 203,89 199,88"/><polygon points="208.75,33.75 214,31.5 222.5,30 233,28.5 245,28 255,27.5 265,28 273.75,30 271,33 267.5,35 265,39 262.5,42.5 259,45.5 255,47.5 249,49.5 242.5,51.25 238.5,54 235,56.25 231,60 227.5,62.5 223.75,62.5 221.5,59.5 220,56.25 219,53 218.75,50 220,47.5 221.25,45 219,41.5 216.25,38.75 212,36.5"/><polygon points="256,53.5 259,52 264,51.5 269,52.5 269.5,55 266,57 260,57.5 256.5,56"/><polygon points="144.3,134.4 144.8,136.4 145.2,136.8 148.9,137.8 154.9,139.5 154.9,139.5 160.4,140.9 160.9,140.7 162.2,139.1 162.3,138.7 162,138.4 158.2,136.4 158.2,136.3 153.2,134.5 153.1,134.5 148.1,133.2 147.9,133.2 144.7,133.8 144.4,134"/><polygon points="162,140 166,139.7 169.6,141.5 168,143 163,142.5"/><polygon points="150.8,165 151.6,162.7 154.8,158.6 159.7,156.2 163,155.2 166.2,154.6 171,156.2 175.9,157.3 182.4,159.2 186.5,162.3 190,165.3 193,167.7 195,170 197.5,173.5 200,177.5 203.5,179.5 207.5,181 214,183 220,185 226,188.75 227.5,192 227.5,195 225,199.5 222.5,203.75 221,209 220,215 217.5,219 215,222.5 211,225.5 207.5,227.5 206,230 205,237.5 201,241.5 197.5,245 192.5,248.75 190,252 188.75,255 186,258.75 187.5,262.5 185,265 183.75,267.5 185,271 186,273.75 187.5,278.75 190,281 192.5,282.5 190,284 187.5,284.5 184,283 181,281 178,278 176,275 174,270 172.5,265 171.5,260 171,255 170.5,250 169.5,246 168.75,242.5 168.75,236 168.75,230 169,224 168.75,218.75 166,215.5 163.75,212.5 160.5,208 157.5,203.75 154,198.5 151,193.75 149,189.5 147.5,185 147.8,180 148.5,175 149.5,170"/><polygon points="271.5,112.4 274,110 277.2,108.3 282,107.3 287.7,106.7 294,106.2 299.8,105.9 303.9,107.5 304.5,110 304,112.1 309.7,115.5 315.3,118.3 319.3,118.9 321,115.5 326.6,114.9 332.3,116.6 337.9,117.7 340.2,118.9 340.8,119.4 342.5,124.5 344.7,129.7 347,134.5 349.2,138.7 351,143 353,147.7 356,151.5 359.5,154.2 361,156.5 364,156.3 367,155.5 370.5,154.8 373.7,154.3 373.6,157 371.8,160.8 370.3,164.5 368.5,168.5 366,172 363.4,175 360.8,178.2 358.2,181.5 356,185 354.6,188.5 354.3,192.5 356,197 357,202.5 355,207 353.75,210 350.5,214 347.5,217.5 346,221 345,225 343.5,230 341.25,235 337,239 332.5,242.5 328,244 323.75,244.5 320,244.5 317.5,243.75 315.5,239.5 313.75,235 312,229 310,222.5 308.5,216 307.5,210 309,205 310,200 309,195 307.5,190 305,186 302.5,182.5 303.5,178.5 303.75,175 302.5,171.5 301,168.75 297,167 292.5,166 286,167.5 280,168.75 275,168 270,166 266,162.5 262.5,158.75 260,154 258.75,150 258.5,146 258.75,142.5 259.5,136 261,130 264,125 267.5,120 270,115.5"/><polygon points="370.9,200.9 369.6,202.1 369.6,202.2 364.6,208.4 364.6,208.5 362.1,212.7 362.1,212.8 359.6,217.3 359.5,217.4 359,221.9 359,222.1 359.5,226.1 359.8,226.5 363.6,228 363.9,228 364.1,227.8 366.9,224.8 366.9,224.7 369.2,220.2 369.2,220.2 371.5,214.2 371.5,214.1 373,207.6 373,207.4 371.7,201.2 371.6,200.9 371.2,200.8"/><polygon points="273.1,105.1 272.3,97 273.1,93 278,93.3 282.8,93 285.3,89.7 283.3,87.3 279.9,85.2 283.9,84 288.4,82 292,79.2 295.6,76.7 298.5,74.3 300.3,72.3 301,71.2 303.5,71.2 304.8,72.4 306.3,71.8 305.7,70.5 304.7,69 303.5,68 301.5,67.3 299.4,67.5 297,66.5 294.9,64.8 294,61.2 295.5,58 297,56 302.5,51.25 307,48.5 312.5,46.25 318,44.5 325,43.75 330,45 335,47.5 339,48.5 342.5,50 345,52 345,53.75 341,54.5 340,56 343,57 347,54 350,48.75 354,48 357.5,47.5 363,45.5 370,43.75 374,44 377.5,43.75 379,47 380,52.5 381.5,48 382,43 387.5,38.75 393,36.5 400,34.5 408,33.5 415,38.75 425,40 433,40 442.5,40 450,41.25 457,42 465,42.5 474,43.5 482.5,45 491,46 500,47.5 510,48.75 514,51 517.5,53.75 522,56 526.25,58.75 523,61 517.4,65.8 519.4,71.6 518.5,76.5 517.4,80.3 514.5,77 511.6,73.5 509,68.5 506.8,63.9 506.8,60 502,62 498,65.8 490,65 481.6,67.7 481.6,70.6 490.3,73.5 496,79.4 498,85 496,91.5 490.3,95.5 489,99.2 490,100.8 494.2,105.5 495,109.5 491.9,111.5 489.8,108.2 487,104.8 485.4,102.4 483,102 482.2,104 480.1,105.3 478.1,101.2 477.7,99.6 474,102.4 477.3,106 480.5,107.7 482.2,111.7 485.4,117.4 487.4,121 486,127 483,131.8 477.4,134.6 471.8,137.4 468,137 465,140 468.75,143.75 471.5,148 471.25,152.5 469,156 466.25,158.5 463,155 460,151.25 457.5,152.5 456.5,153.75 456.8,157 458.3,162.5 460.8,167.5 463.3,170.5 465.6,173.7 465.8,176.8 462.5,175.5 459.5,172.3 456.5,167.3 454.5,162 453.5,157.5 452.5,153 451.25,148.75 448.5,146 446.25,143.75 445,140 443.75,137.5 441,135.5 438.75,135 435,136.5 432.5,137.5 428.5,141 425,145 423.5,149 422.5,152.5 422,157 421.25,160 419,159 417.5,157.5 415,152.5 412.5,147.5 410.5,142 408.75,137.5 405.5,136.5 403.75,135 402.5,132.5 397.5,130.5 390,130 385,128.5 380,127.5 376,124.5 372,121 370,120 367.5,119 366,118.75 367.5,122.5 371,126.5 375,130 379,130.5 382.5,130 385.5,131.5 387,134 386,136.5 384,139.5 380.5,143 376.3,146.2 372,148.8 367.3,151 363.5,152.8 360.8,153.3 360.3,150.5 358.7,147 357,143.9 355,140 353,136 350.5,131.8 347.9,127.7 345.5,123.5 343.4,119.4 343.8,117 344.1,113.2 343.5,108.1 342.8,106.7 340,107.3 336.3,107.5 333,106.7 329.8,105.1 329,100.2 326.5,99.5 324.2,100.2 325.8,103.5 325,105.5 323.3,107.5 320.9,103.5 316.9,98.6 313,95 309.6,91.3 307.1,91.3 309,92.5 312,95.4 315.2,100.2 313.5,103 312,105.1 308.8,101.9 305.5,97 303.9,92.1 299.8,93 295,93.8 291.7,97 287.7,101 282,105.1 276.3,106.7"/><polygon points="280.8,65 283.5,68.1 284.4,71.7 287.1,75.3 289.3,77.6 288,79.2 284.4,80.3 279.4,81.2 281.2,79.2 280.3,76.7 281.7,74.4 279.4,71.7 277.6,68.6 277.6,66.8"/><polygon points="271.8,75.5 273.5,72.8 276.5,71.9 278.5,74 278,77.5 275,79.4 272.5,78.5"/><polygon points="300,32.5 306,31 314,32 312,35 305,35"/><polygon points="350,42 354,39 359,36.5 363,36 360,38.5 355,41.5 352,43.5"/><polygon points="384,32 392,30 400,31 396,34 388,34.5"/><polygon points="444,37 452,36 460,38 455,40.5 447,40"/><polygon points="499.5,83 501,85 504.5,89.5 506,94 504.5,93.5 502,89 499.5,86"/><polygon points="504.3,92 504.5,95 504.8,95.4 506.8,96.4 507,96.5 511,96.8 511.4,96.6 513.4,93.3 516.4,88.9 516.5,88.5 516.3,88.2 516,88.1 515.7,88.2 511.8,91.1 508,92.5 504.9,91.5 504.5,91.6"/><polygon points="507.6,97.1 507.2,100.3 507.2,100.4 507.6,105.1 504.5,108.1 500.7,110.6 500.7,110.6 497.2,113 497,113.3 497,113.6 498,116.2 498.2,116.4 500.5,117.8 500.9,117.9 501.2,117.7 503.4,115.4 506,112.9 509.2,111.5 513.2,109.8 513.4,109.5 513.5,109.2 512.6,105.9 511,98.9 510.8,98.6 508.4,96.8 508.1,96.7 507.8,96.8"/><polygon points="422.5,159.5 425,161 425.5,164 424,165.5 422.5,164.5 422,162"/><polygon points="470,138 472.5,137.8 473.5,139.5 472,141.3 470,140.5"/><polygon points="488.5,128.5 490,130 489.5,133 488.3,134 487.5,131"/><polygon points="490,143 493,143.5 494,148 496,152.5 494,153 491.5,150 490.5,146"/><polygon points="495,153 498,155 500,158 502.5,160 502.5,166 499,166.5 497,162 495.5,158"/><polygon points="450.1,167.5 449.8,171.5 449.9,171.8 452.1,175.6 452.1,175.6 455.1,179.3 455.1,179.3 458.1,182.8 458.1,182.9 461.6,186.4 461.8,186.4 465.3,188.4 465.7,188.5 468.2,187.5 468.4,187.3 468.5,187 468.5,184 468.4,183.7 465.9,180 465.9,180 463.4,176.7 463.4,176.7 460.4,173.2 460.3,173.1 457.3,170.3 457.3,170.3 454.3,167.9 454.1,167.8 450.7,167 450.3,167.1"/><polygon points="467.5,189.5 467.5,191.5 467.6,191.8 467.8,192 471.8,193.5 471.9,193.5 476.9,195 477,195 482,195 482.4,194.8 482.5,194.4 482.1,192.4 481.7,192 477.1,191 472.1,189.5 472.1,189.5 468.1,189 467.7,189.1"/><polygon points="483.5,193.5 490,194 497,194.5 502,195 502,196.5 496,197 489,196 483.5,195.5"/><polygon points="472.9,175.8 476,172.5 481.6,169 484.5,167 487.4,165.2 489.5,167.5 489.4,170 488,173 486.5,175.8 485.5,178.5 484.5,181.6 481.5,183 478.7,183.5 476.5,182.5 474.8,180.6 473.5,178"/><polygon points="491.5,176 494,175 498,175.5 496,178 494.5,179 496.5,182 498,186 496,186 494.5,183 493.5,185 494,188.5 492,188 491.5,183 491.5,179"/><polygon points="512.1,179.9 513.5,183.2 513.7,183.4 518.7,186.4 521.9,188.7 523.1,190.7 523.1,190.8 524.8,193.5 525,193.7 527.8,195 527.9,195 530.9,195.7 531.1,195.7 534.1,195 534.2,195 536.7,193.8 539.7,196.4 539.8,196.5 542.4,197.5 542.8,197.5 543.1,197.2 543,196.8 540.9,192.8 539.1,189.2 539,189 535.3,185.6 535.3,185.6 531.3,183.1 531.1,183 526.1,181.5 526,181.5 521.3,181.1 521.1,181.1 519.1,181.9 517.3,180.6 515.4,178.6 514.9,178.5 512.5,179.2 512.1,179.5"/><polygon points="477.5,221.25 482,219 487.5,217.5 492.5,213.5 497.5,208.75 502,205.5 507.5,202.5 513.75,201.25 518.75,203.75 520,208.75 525,212.5 527.5,205 529.25,200 532.5,207.5 536.25,216.25 540,223.75 541.25,231.25 538.75,238.75 533.75,246.25 528.75,251.25 521.25,253.75 513.75,252.5 510,246.25 506.25,242.5 502.5,238.75 495,238.75 485,242.5 477.5,246.25 473.75,243.75 475,237.5 476.25,230"/><polygon points="512.5,257 519.25,256.25 517,260 515,262.5 513,260"/><polygon points="567.5,245 568.5,248 571.25,251.25 567,254.5 563.75,256.25 564,253 566.25,250"/><polygon points="562.5,257 561.5,260 555,264 547,267.5 540,269.5 540.5,267 548,263.5 556,259.5"/><polyline points="142,334 135,333.3 120,331.5 106.3,328.8 118,327.3 127,326 118,324.5 110,323.5 108.4,321.5 113,320 118.9,319.4 131.4,317.3 142,316.2 154.5,316.2 167,314 183.9,314 192.2,312 198.5,308.9 202.7,302.6 209,298.4 214.3,298 207,302.6 204.8,306.8 211.1,311 215.3,317.3 219.5,320.4 230,321.7 242.4,322.3 251,320 259.4,317.3 266,314.5 273,312 282,311 290,311.5 300,310.5 310,310.5 320,309 330.6,307 340.8,305.4 349,307 357.7,303.7 365,304.5 371,305.4 378,308.8 385,307 391.6,305.4 405,304 418.7,303 435.6,303.7 452.6,304.4 473,305.4 486.5,308.8 493,312.8 483,317 469.5,322 462.7,327.4 456,331.5 449,334"/><polygon points="329.7,95.6 331.7,96.9 331.9,97 334.4,97.3 334.6,97.3 337.1,97 337.1,97 340.2,96.2 343.3,97.5 343.3,97.5 346.7,98.8 347,98.8 349.1,98.5 349.3,98.4 351.2,96.7 351.4,96.3 351.2,95.9 347.3,92.6 347.3,92.6 344.3,90.1 344.3,90.1 342.7,89.1 342.2,89.1 340.3,90.1 340.2,90.1 338.6,91.1 336.9,89 336.6,88.8 334.1,88.5 333.6,88.6 331.1,91.1 331,91.3 329.5,95 329.5,95.3"/><polygon points="316.7,53.6 313.6,56.3 313.6,56.3 310.8,59 310.6,59.2 309.7,61.9 309.7,62.2 311,66.5 309.1,68.7 307.1,70.8 307.1,70.8 306.2,72.2 306.1,72.6 306.3,72.9 306.6,73 311,72.8 311.1,72.8 314.9,72.1 315.1,72 317.8,69.7 318,69.5 318.7,67.4 318.6,66.9 317.4,65.4 317.3,65.3 316.4,64.7 315.4,63 316.6,60.1 318.8,56 318.8,55.5 317.4,53.7 317,53.5"/><polygon points="360.8,88 360.8,91.2 360.8,91.4 362,95.2 362.1,95.2 364.5,100.2 367,106.4 367.3,106.7 371,108.5 371.5,108.5 371.7,108.1 373,103.9 372.9,103.4 369.2,99.7 366.8,95 369.2,91.5 369.2,91 366.7,86.7 366.3,86.5 363.5,86.3 363.3,86.4 361,87.6"/><polygon points="375.5,90 375.5,92.5 375.7,92.9 377.7,94.4 378,94.5 378.3,94.4 380.6,92.9 380.8,92.5 380.8,90 380.5,89.6 378.2,88.3 377.7,88.3 375.7,89.6"/><polygon points="340.5,178.5 340.3,182 340.4,182.3 340.6,182.5 342.8,183.5 343.1,183.5 343.4,183.3 344.9,180.8 345,180.3 344,177.8 343.7,177.6 343.4,177.5 340.9,178 340.6,178.2"/><polygon points="149,86.5 153,85 158,85.5 159,87.5 155,88.5 151,88.5"/><polygon points="150.5,89 152.5,89 153,95 151.5,96.7 150.3,93"/><polygon points="157,88.5 161,88 163.5,91 162,94 159,93 157.5,91"/><polygon points="158,95 162,94.7 166,93.5 166,94.8 162,96.3 158,96.5"/></g>
<g fill="none" stroke="#fff" stroke-width="1.3" stroke-linecap="round"><polyline points="62,68 55,70.5 48,73 41,75"/><polyline points="26,77.5 27.5,77.5"/><polyline points="31,77 32,77"/><polyline points="127,53 131,52 135,53.5"/><polyline points="129,60 133,59 137,61"/><polyline points="140,66.5 144,68.5"/><polyline points="142.5,73 144,77 144.5,80"/><polyline points="144,63 146,65"/><polyline points="310.5,151.7 311.3,152.3"/><polyline points="337,186 337.6,190 338.3,194"/><polyline points="344.5,196 345,201 345.6,205"/><polyline points="441,77 443,73.5 444.5,71"/><polyline points="401,87.7 404,87.3 407,87.6"/><polyline points="486.5,159.5 489.5,156.5"/><polyline points="334,31.5 340,30.5"/><polyline points="344,31 349,30.5 355,31.5"/><polyline points="541,189.4 544,188.5 547,186"/><polyline points="551,189 553,190.5"/><polyline points="555,192 557.5,194"/><polyline points="559,195 560.5,196.5"/><polyline points="562,217.5 565,220"/><polyline points="569.3,206.5 569.8,209.5"/><polyline points="586,212 589,210.5"/><polyline points="198,277.8 201,277.2"/><polyline points="232.5,283.3 235,282.7"/><polyline points="224.3,294 225,294"/><polyline points="17.5,134.5 19,135"/><polyline points="21,136 22.5,137"/><polyline points="23.5,138.5 25,139.3"/><polyline points="130.5,179.5 131.3,179.5"/><polyline points="156.5,126.5 158,129"/><polyline points="159.5,131 161.5,133.5"/><polyline points="163,131 163.5,132"/><polyline points="172,141.5 174,142"/><polyline points="183,146 183.3,149"/><polyline points="444.5,152 444.7,155.5"/><polyline points="500.3,122.5 500.6,123.5"/><polyline points="498.7,126 499.2,127.5"/><polyline points="380,218 380.8,218"/><polyline points="383,217 383.8,217"/><polyline points="389.5,273 391,273"/><polyline points="504,176 505,179"/><polyline points="500,170 501.5,171.5"/><polyline points="509,177.5 510.5,178"/><polyline points="505.5,190 508,190.5"/><polyline points="510,193 513,193.5"/><polyline points="515,196 517,196.3"/><polyline points="486,186.5 488,187.5"/><polyline points="470,186.5 471,187.5"/><polyline points="447.5,168.5 449,171"/><polyline points="451,175.5 452.5,178"/><polyline points="455,181.5 456.5,183.5"/><polyline points="533.5,181.5 535.5,181.3"/><polyline points="546,183 548,182"/><polyline points="549,179 550.5,178.5"/><polyline points="507,181 508,184.5"/><polyline points="505,186 508,187"/><polyline points="297.8,98 298.3,100"/><polyline points="298,101.5 298.8,104"/><polyline points="304.5,107.5 307,108.5"/><polyline points="322,111 326,111.3"/><polyline points="336.5,112 338.5,111.6"/><polyline points="523.2,71.5 524,71.8"/><polyline points="537.7,76 538.3,76"/><polyline points="503.5,44.3 504.5,44.8"/><polyline points="319,66.8 319.8,66.4"/><polyline points="323.3,63.3 324.3,62.8"/><polyline points="328.7,61.9 329.7,61.5"/><polyline points="333.5,60.5 334.7,60"/><polyline points="313,67.2 313.2,68"/></g>
</g>
<rect x="20.5" y="338" width="562" height="11.5" fill="url(#cb)"/>
<rect x="20.5" y="338" width="562" height="11.5" fill="url(#sh)"/>
<g stroke="#fff" stroke-opacity=".55" stroke-width=".8"><line x1="114.3" y1="338" x2="114.3" y2="349.5"/><line x1="208.0" y1="338" x2="208.0" y2="349.5"/><line x1="301.7" y1="338" x2="301.7" y2="349.5"/><line x1="395.4" y1="338" x2="395.4" y2="349.5"/><line x1="489.1" y1="338" x2="489.1" y2="349.5"/></g>
<g font-size="15.8"><text x="20.6" y="364.6" text-anchor="middle">0</text><text x="114.75" y="364.6" text-anchor="middle">50</text><text x="212.3" y="364.6" text-anchor="middle">100</text><text x="302.6" y="364.6" text-anchor="middle">150</text><text x="394.6" y="364.6" text-anchor="middle">200</text><text x="488.1" y="364.6" text-anchor="middle">250</text><text x="584" y="364.6" text-anchor="middle">300</text></g>
<text transform="translate(246.6,380.4) scale(1.075,1)" font-size="18.4">Days per year</text>
</svg>
</body></html>
